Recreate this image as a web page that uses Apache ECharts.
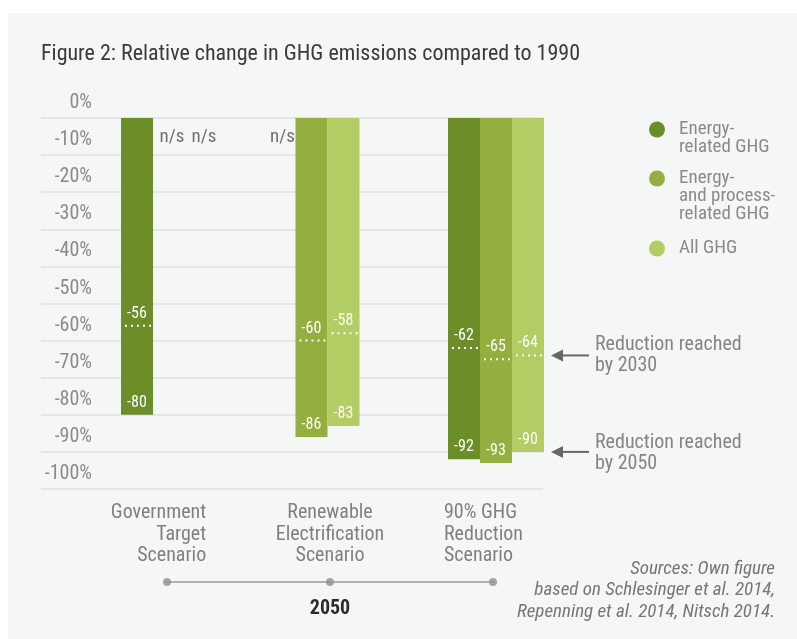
<!DOCTYPE html>
<html><head><meta charset="utf-8">
<script src="https://cdn.jsdelivr.net/npm/echarts@6/dist/echarts.min.js"></script>
<style>html,body{margin:0;padding:0;background:#fff}#main{width:797px;height:639px}</style>
</head><body><div id="main"></div>
<script>
// ---- data ----
const scenarios = ['Government\nTarget\nScenario', 'Renewable\nElectrification\nScenario', '90% GHG\nReduction\nScenario'];
const seriesNames = ['Energy-related GHG', 'Energy- and process-related GHG', 'All GHG'];
const legendLabels = ['Energy-\nrelated GHG', 'Energy-\nand process-\nrelated GHG', 'All GHG'];
const energy2050  = [-80, null, -92];
const energy2030  = [-56, null, -62];
const process2050 = [null, -86, -93];
const process2030 = [null, -60, -65];
const all2050     = [null, -83, -90];
const all2030     = [null, -58, -64];
const yMin = -100, yMax = 0, yInterval = 10;
const timelineLabel = '2050';
const titleText = 'Figure 2: Relative change in GHG emissions compared to 1990';
const sourcesText = 'Sources: Own figure\nbased on Schlesinger et al. 2014,\nRepenning et al. 2014, Nitsch 2014.';
const annotations = ['Reduction reached\nby 2030', 'Reduction reached\nby 2050'];

// ---- style ----
const FONT = '"Roboto Condensed", "Liberation Sans Narrow", sans-serif';
const colors = ['#6b8e29', '#94ae3f', '#b3cc63'];
const values2050 = [energy2050, process2050, all2050];
const values2030 = [energy2030, process2030, all2030];
const BAR_W = 32;
const groupCenters = [169, 311.5, 496];
const GRID_TOP = 118, GRID_H = 371;

const chart = echarts.init(document.getElementById('main'), null, {renderer: 'canvas'});

const grids = [{left: 41, width: 502, top: GRID_TOP, height: GRID_H}];
const xAxes = [{gridIndex: 0, type: 'category', data: [''], show: false}];
const yAxes = [{
  gridIndex: 0, type: 'value', min: yMin, max: yMax, interval: yInterval,
  axisLine: {show: false}, axisTick: {show: false},
  splitLine: {show: true, lineStyle: {color: '#dedfdf', width: 1.5}},
  axisLabel: {
    inside: true, align: 'right', margin: 51, verticalAlign: 'bottom',
    padding: [0, 0, 5, 0], fontSize: 20, lineHeight: 20, color: '#8a8a8a', fontFamily: FONT,
    formatter: v => v + '%'
  }
}];
const series = [];

function renderMarks(params, api) {
  const s = api.value(2);
  const isNs = api.value(3);
  const dx = (s - 1) * BAR_W;
  if (isNs) {
    const p0 = api.coord([api.value(0), 0]);
    return {type: 'text', x: p0[0] + dx + 3, y: p0[1] + 19,
      style: {text: 'n/s', fill: '#707070', fontSize: 19, fontFamily: FONT, align: 'center', verticalAlign: 'middle'}};
  }
  const p = api.coord([api.value(0), api.value(1)]);
  const left = p[0] + dx - BAR_W / 2;
  return {type: 'group', children: [
    {type: 'line', shape: {x1: left + 4, y1: p[1], x2: left + BAR_W, y2: p[1]},
     style: {stroke: '#ffffff', lineWidth: 2, lineDash: [2, 4]}},
    {type: 'text', x: p[0] + dx, y: p[1] - 4,
     style: {text: String(api.value(1)), fill: '#ffffff', fontSize: 16, fontFamily: FONT, align: 'center', verticalAlign: 'bottom'}}
  ]};
}

scenarios.forEach((sc, g) => {
  const gi = g + 1;
  grids.push({left: groupCenters[g] - 50, width: 100, top: GRID_TOP, height: GRID_H});
  xAxes.push({gridIndex: gi, type: 'category', data: [sc], show: false});
  yAxes.push({gridIndex: gi, type: 'value', min: yMin, max: yMax, show: false});
  seriesNames.forEach((nm, s) => {
    series.push({
      name: nm, type: 'bar', xAxisIndex: gi, yAxisIndex: gi,
      barWidth: BAR_W, barGap: '0%',
      itemStyle: {color: colors[s]},
      label: {show: true, position: 'insideBottom', distance: 4, color: '#fff', fontSize: 16, fontFamily: FONT},
      data: [values2050[s][g]]
    });
  });
  series.push({
    type: 'custom', name: 'marks' + g, xAxisIndex: gi, yAxisIndex: gi, z: 5, clip: false,
    renderItem: renderMarks,
    data: seriesNames.map((nm, s) => [0, values2030[s][g] == null ? 0 : values2030[s][g], s, values2050[s][g] == null ? 1 : 0])
  });
});

// timeline grid
const TL = 4;
grids.push({left: 167, width: 326, top: 560, height: 22});
xAxes.push({
  gridIndex: TL, type: 'category', data: scenarios, boundaryGap: false, position: 'bottom',
  axisLine: {show: true, lineStyle: {color: '#9a9a9a', width: 1.5}},
  axisTick: {show: false},
  axisLabel: {
    inside: true, margin: 15, interval: 0, verticalAlign: 'bottom', fontFamily: FONT, fontSize: 20, color: '#808080',
    formatter: (v, i) => { const t = ['r', 'c', 'l'][i]; return v.split('\n').map(l => '{' + t + '|' + l + '}').join('\n'); },
    rich: {
      r: {align: 'right', padding: [0, 17, 0, 0], fontSize: 20, lineHeight: 21.5, color: '#808080', fontFamily: FONT},
      c: {align: 'center', fontSize: 20, lineHeight: 21.5, color: '#808080', fontFamily: FONT},
      l: {align: 'left', padding: [0, 19, 0, 0], fontSize: 20, lineHeight: 21.5, color: '#808080', fontFamily: FONT}
    }
  },
  name: timelineLabel, nameLocation: 'middle', nameGap: 17,
  nameTextStyle: {fontSize: 20, fontWeight: 'bold', color: '#2b2b2b', fontFamily: FONT}
});
yAxes.push({gridIndex: TL, type: 'value', min: 0, max: 1, show: false});
series.push({
  type: 'scatter', xAxisIndex: TL, yAxisIndex: TL, symbolSize: 8, clip: false,
  itemStyle: {color: '#8e8e8e'}, silent: true,
  data: scenarios.map(s => [s, 0])
});

// legends: one per series; leading blank lines keep the dot on the first text line
const legendTops = [102, 133, 239];
const legends = seriesNames.map((nm, s) => {
  const n = legendLabels[s].split('\n').length;
  return {
    data: [nm], orient: 'vertical', left: 649, top: legendTops[s], padding: 0,
    icon: 'circle', itemWidth: 16, itemHeight: 16, selectedMode: false,
    formatter: () => '\n'.repeat(n - 1) + legendLabels[s],
    textStyle: {fontSize: 19, lineHeight: 18, color: '#8a8a8a', fontFamily: FONT, padding: [0, 0, 0, 9]}
  };
});

const option = {
  backgroundColor: '#f5f7f7',
  animation: false,
  textStyle: {fontFamily: FONT},
  title: [
    {text: titleText, left: 41, top: 43, padding: 0,
     textStyle: {fontSize: 22, fontWeight: 'normal', color: '#3a3a3a', fontFamily: FONT}},
    {text: sourcesText, left: 775, top: 558, padding: 0, textAlign: 'right',
     textStyle: {fontSize: 19, fontWeight: 'normal', fontStyle: 'italic', lineHeight: 21.5, color: '#767676', fontFamily: FONT}}
  ],
  legend: legends,
  grid: grids, xAxis: xAxes, yAxis: yAxes, series: series
};
chart.setOption(option);

// annotations tied to the All GHG values of the last scenario
const yA = chart.convertToPixel({yAxisIndex: 3}, all2030[2]);
const yB = chart.convertToPixel({yAxisIndex: 3}, all2050[2]);
function arrow(y) {
  return [
    {type: 'line', shape: {x1: 560, y1: y, x2: 589, y2: y}, style: {stroke: '#676767', lineWidth: 2}},
    {type: 'polygon', shape: {points: [[551, y], [563, y - 6], [563, y + 6]]}, style: {fill: '#676767'}}
  ];
}
chart.setOption({graphic: [
  {type: 'rect', left: 0, top: 0, shape: {width: 797, height: 13}, style: {fill: '#ffffff'}, z: 100},
  {type: 'rect', left: 0, top: 0, shape: {width: 8, height: 639}, style: {fill: '#ffffff'}, z: 100},
  ...arrow(yA), ...arrow(yB),
  {type: 'text', x: 595, y: yA - 10 - 10.5, style: {text: annotations[0], fontSize: 20, lineHeight: 21, fill: '#858585', fontFamily: FONT}},
  {type: 'text', x: 595, y: yB - 9 - 10.5, style: {text: annotations[1], fontSize: 20, lineHeight: 21, fill: '#858585', fontFamily: FONT}}
]});
</script></body></html>
